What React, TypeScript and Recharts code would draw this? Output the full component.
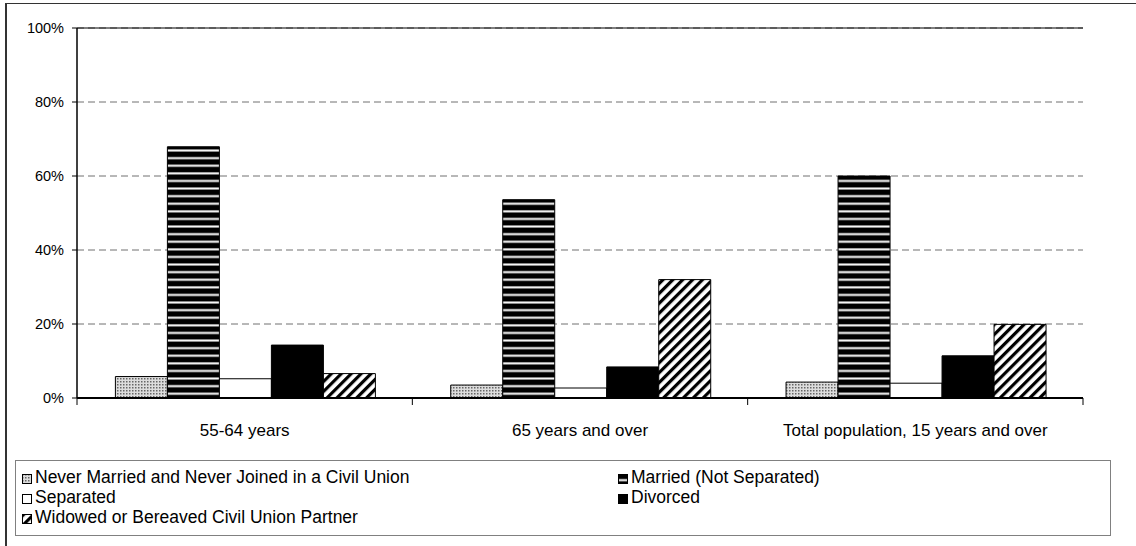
import React from 'react';
import { BarChart, Bar, XAxis, YAxis, CartesianGrid, ReferenceLine } from 'recharts';

const categories = ['55-64 years', '65 years and over', 'Total population, 15 years and over'];
const neverMarried = [5.8, 3.5, 4.3];
const married = [67.9, 53.6, 60.0];
const separated = [5.2, 2.7, 4.0];
const divorced = [14.3, 8.4, 11.4];
const widowed = [6.6, 32.0, 19.9];
const yTicks = [0, 20, 40, 60, 80, 100];

const seriesNames = [
  'Never Married and Never Joined in a Civil Union',
  'Married (Not Separated)',
  'Separated',
  'Divorced',
  'Widowed or Bereaved Civil Union Partner',
];
const seriesKeys = ['neverMarried', 'married', 'separated', 'divorced', 'widowed'];

const data = categories.map((category, i) => ({
  category,
  neverMarried: neverMarried[i],
  married: married[i],
  separated: separated[i],
  divorced: divorced[i],
  widowed: widowed[i],
}));

const W = 1136;
const H = 546;
const PLOT_LEFT = 77;
const PLOT_RIGHT = 1083;
const PLOT_TOP = 28;
const PLOT_BOTTOM = 398;
const BAND = (PLOT_RIGHT - PLOT_LEFT) / categories.length;
const FONT = '"Liberation Sans", Arial, sans-serif';

// fill for each series, pattern ids get a prefix so legend swatches have their own defs
const fillFor = (key: string, p: string) =>
  ({
    neverMarried: `url(#${p}dots)`,
    married: `url(#${p}hstripe)`,
    separated: '#ffffff',
    divorced: '#000000',
    widowed: `url(#${p}diag)`,
  } as Record<string, string>)[key];

function Patterns({ prefix }: { prefix: string }) {
  return (
    <defs>
      <pattern id={`${prefix}dots`} width="3" height="3" patternUnits="userSpaceOnUse">
        <rect width="3" height="3" fill="#dcdcdc" />
        <rect x="0" y="0" width="1.5" height="1.5" fill="#666" />
      </pattern>
      <pattern id={`${prefix}hstripe`} width="4" height="7.6" patternUnits="userSpaceOnUse">
        <rect width="4" height="7.6" fill="#000" />
        <rect y="4.8" width="4" height="0.5" fill="#999" />
        <rect y="5.3" width="4" height="1.8" fill="#fff" />
        <rect y="7.1" width="4" height="0.5" fill="#999" />
      </pattern>
      <pattern
        id={`${prefix}diag`}
        width="7"
        height="7"
        patternUnits="userSpaceOnUse"
        patternTransform="rotate(45)"
      >
        <rect width="7" height="7" fill="#fff" />
        <rect width="3.2" height="7" fill="#000" />
      </pattern>
    </defs>
  );
}

function XTick(props: any) {
  const { x, payload, index } = props;
  const half = BAND / 2;
  return (
    <g>
      <line x1={x - half} x2={x - half} y1={PLOT_BOTTOM} y2={PLOT_BOTTOM + 7} stroke="#000" />
      {index === categories.length - 1 && (
        <line x1={x + half} x2={x + half} y1={PLOT_BOTTOM} y2={PLOT_BOTTOM + 7} stroke="#000" />
      )}
      <text x={x} y={436} textAnchor="middle" fontSize={17} fontFamily={FONT} fill="#000">
        {payload.value}
      </text>
    </g>
  );
}

function Swatch({ k }: { k: string }) {
  const p = `lg-${k}-`;
  return (
    <svg width="10" height="10" style={{ display: 'inline-block', marginRight: 3, verticalAlign: '-1px' }}>
      <Patterns prefix={p} />
      <rect x="0.5" y="0.5" width="9" height="9" fill={fillFor(k, p)} stroke="#000" strokeWidth="1" />
    </svg>
  );
}

export default function App() {
  return (
    <div
      style={{
        position: 'relative',
        width: W,
        height: H,
        margin: -8,
        overflow: 'hidden',
        background: '#fff',
        fontFamily: FONT,
      }}
    >
      <div style={{ position: 'absolute', left: 0, top: 0 }}>
        <BarChart
          width={W}
          height={H}
          data={data}
          margin={{ top: PLOT_TOP, right: W - PLOT_RIGHT, bottom: 98, left: 0 }}
          barCategoryGap="11.45%"
          barGap={0}
        >
          <Patterns prefix="c-" />
          <CartesianGrid vertical={false} stroke="#707070" strokeDasharray="7 4" />
          <XAxis
            dataKey="category"
            height={50}
            interval={0}
            axisLine={{ stroke: '#000', strokeWidth: 2 }}
            tickLine={false}
            tick={<XTick />}
          />
          <YAxis
            width={PLOT_LEFT}
            domain={[0, 100]}
            ticks={yTicks}
            interval={0}
            tickFormatter={(v: number) => `${v}%`}
            axisLine={{ stroke: '#000', strokeWidth: 1.5 }}
            tickLine={{ stroke: '#000' }}
            tickSize={5}
            tickMargin={8}
            tick={{ fill: '#000', fontSize: 14.5, fontFamily: FONT }}
          />
          <YAxis
            yAxisId="frame"
            orientation="right"
            width={0}
            domain={[0, 100]}
            tick={false}
            tickLine={false}
            axisLine={{ stroke: '#222', strokeWidth: 1 }}
          />
          <ReferenceLine y={100} stroke="#000" strokeWidth={1} />
          {seriesKeys.map((k, i) => (
            <Bar
              key={k}
              dataKey={k}
              name={seriesNames[i]}
              fill={fillFor(k, 'c-')}
              stroke="#000"
              strokeWidth={1}
              isAnimationActive={false}
            />
          ))}
        </BarChart>
      </div>
      {/* legend box */}
      <div
        style={{
          position: 'absolute',
          left: 15,
          top: 460,
          width: 1094,
          height: 74,
          border: '1px solid #808080',
          fontSize: 17.5,
          color: '#000',
        }}
      >
        {seriesKeys.map((k, i) => (
          <div
            key={k}
            style={{
              position: 'absolute',
              left: i % 2 === 0 ? 6 : 602,
              top: 6 + Math.floor(i / 2) * 20,
              whiteSpace: 'nowrap',
              lineHeight: '20px',
            }}
          >
            <Swatch k={k} />
            {seriesNames[i]}
          </div>
        ))}
      </div>
      {/* outer chart frame: left and top edges only, the rest runs off the picture */}
      <div style={{ position: 'fixed', left: 5, top: 3, width: 2, height: H, background: '#333', zIndex: 10 }} />
      <div style={{ position: 'fixed', left: 5, top: 3, width: W, height: 1, background: '#333', zIndex: 10 }} />
    </div>
  );
}
